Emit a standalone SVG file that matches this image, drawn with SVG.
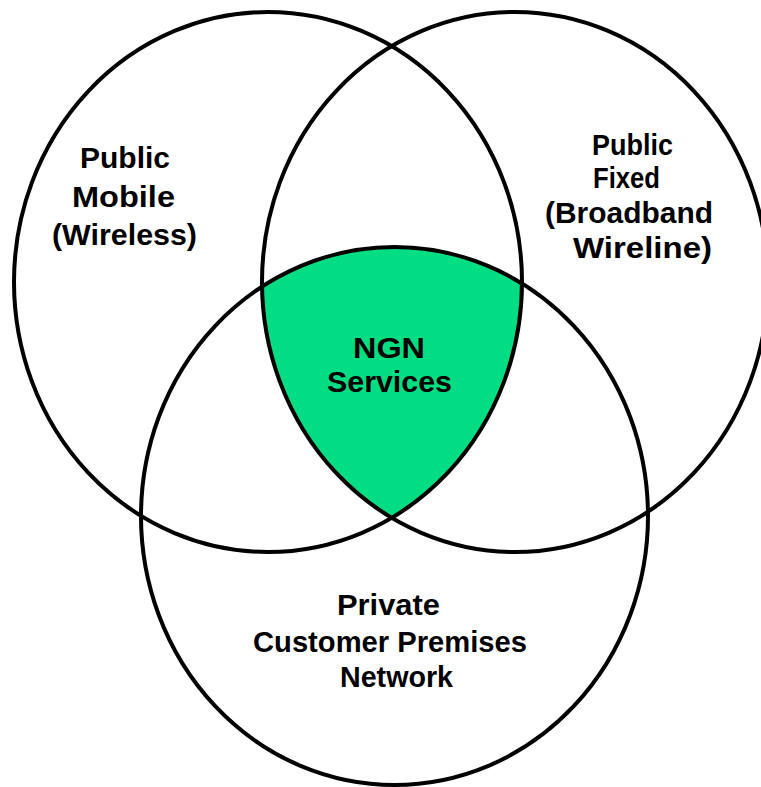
<svg xmlns="http://www.w3.org/2000/svg" width="761" height="787" viewBox="0 0 761 787">
<style>
.ring{fill:none;stroke:#000;stroke-width:4}
.lbl{font-family:"Liberation Sans",Arial,sans-serif;font-weight:bold;font-size:29px;fill:#000;text-anchor:middle}
</style>
<defs>
<clipPath id="clipL"><ellipse cx="268" cy="282" rx="254" ry="270"/></clipPath>
<clipPath id="clipR"><ellipse cx="515" cy="282" rx="253" ry="270"/></clipPath>
</defs>
<rect width="761" height="787" fill="#fff"/>
<g id="ngn-services">
<g clip-path="url(#clipL)"><g clip-path="url(#clipR)">
<ellipse cx="394.5" cy="516" rx="253.5" ry="269" fill="#00DD82"/>
</g></g>
<text class="lbl" x="389" y="358" textLength="72" lengthAdjust="spacingAndGlyphs">NGN</text>
<text class="lbl" x="389.5" y="392" textLength="125" lengthAdjust="spacingAndGlyphs">Services</text>
</g>
<g id="public-mobile">
<ellipse class="ring" cx="268" cy="282" rx="254" ry="270"/>
<text class="lbl" x="125" y="168" textLength="90" lengthAdjust="spacingAndGlyphs">Public</text>
<text class="lbl" x="123.5" y="207" textLength="103" lengthAdjust="spacingAndGlyphs">Mobile</text>
<text class="lbl" x="124.5" y="245" textLength="145" lengthAdjust="spacingAndGlyphs">(Wireless)</text>
</g>
<g id="public-fixed">
<ellipse class="ring" cx="515" cy="282" rx="253" ry="270"/>
<text class="lbl" x="632.5" y="155" textLength="81" lengthAdjust="spacingAndGlyphs">Public</text>
<text class="lbl" x="626.5" y="188" textLength="67" lengthAdjust="spacingAndGlyphs">Fixed</text>
<text class="lbl" x="629" y="223" textLength="168" lengthAdjust="spacingAndGlyphs">(Broadband</text>
<text class="lbl" x="642.5" y="258" textLength="139" lengthAdjust="spacingAndGlyphs">Wireline)</text>
</g>
<g id="private-cpn">
<ellipse class="ring" cx="394.5" cy="516" rx="253.5" ry="269"/>
<text class="lbl" x="388.5" y="615" textLength="103" lengthAdjust="spacingAndGlyphs">Private</text>
<text class="lbl" x="390" y="652" textLength="274" lengthAdjust="spacingAndGlyphs">Customer Premises</text>
<text class="lbl" x="396.5" y="687" textLength="113" lengthAdjust="spacingAndGlyphs">Network</text>
</g>
<g id="connectors"/>
</svg>
